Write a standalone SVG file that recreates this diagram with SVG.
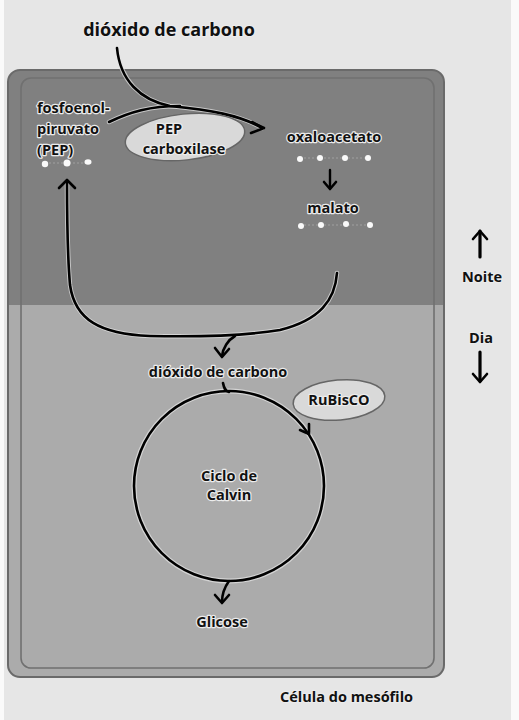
<svg xmlns="http://www.w3.org/2000/svg" width="519" height="720" viewBox="0 0 519 720">
<defs>
<style>
text{font-family:"Open Sans","Liberation Sans",sans-serif;font-weight:bold;fill:#111;stroke:#ececec;stroke-width:2.4px;paint-order:stroke;stroke-linejoin:round}
.c{text-anchor:middle}
.ln{fill:none;stroke:#000;stroke-width:2.6;stroke-linecap:round;stroke-linejoin:round}
.halo{fill:none;stroke:#e6e6e6;stroke-width:4.5;stroke-linecap:round;stroke-linejoin:round;opacity:0.7}
.dot{fill:#fafafa}
.enz{fill:#d9d9d9;stroke:#666;stroke-width:1.5}
</style>
<clipPath id="cell"><rect x="8" y="70" width="436" height="607" rx="12"/></clipPath>
</defs>
<rect x="0" y="0" width="519" height="720" fill="#e6e6e6"/>
<rect x="511" y="0" width="8" height="720" fill="#fafafa"/>
<rect x="0" y="0" width="4" height="720" fill="#fafafa"/>
<g id="cell-body">
<g clip-path="url(#cell)">
<rect x="8" y="70" width="436" height="235" fill="#808080"/>
<rect x="8" y="305" width="436" height="372" fill="#ababab"/>
</g>
<rect x="8" y="70" width="436" height="607" rx="12" fill="none" stroke="#6a6a6a" stroke-width="2"/>
<rect x="21" y="78" width="413" height="590" rx="10" fill="none" stroke="#707070" stroke-width="1.6"/>
</g>
<g id="connectors">
<path class="halo" d="M117 48 C120 80 140 100 170 106 C210 110 240 115 262 128"/>
<path class="halo" d="M109 122 C130 112 150 106 180 106"/>
<path class="halo" d="M337 273 C335 300 320 320 280 330 C250 335 200 337 150 336 C100 334 75 320 70 285 C67 250 67 210 67 182"/>
<path class="ln" d="M117 48 C120 80 140 100 170 106 C210 110 240 115 262 128"/>
<path class="ln" d="M109 122 C130 112 150 106 180 106"/>
<path class="ln" d="M252 122 L264 128 L251 133"/>
<path class="ln" d="M337 273 C335 300 320 320 280 330 C250 335 200 337 150 336 C100 334 75 320 70 285 C67 250 67 210 67 182"/>
<path class="ln" d="M59 188 L67 180 L75 188"/>
<path class="ln" d="M235 336 C228 340 223 348 222 356"/>
<path class="ln" d="M215 348 L222 357 L229 349"/>
<line x1="330" y1="170" x2="330" y2="188" stroke="#000" stroke-width="2.4" stroke-linecap="round"/>
<path class="ln" d="M324 182 L330 189 L336 182" stroke-width="2.4"/>
<circle cx="229" cy="486" r="95" fill="none" stroke="#e6e6e6" stroke-width="5" opacity="0.7"/>
<circle cx="229" cy="486" r="95" fill="none" stroke="#000" stroke-width="2.6"/>
<path class="ln" d="M223 383 C224 388 225 391 229 392"/>
<path class="ln" d="M300 430 L309 434 L309 424"/>
<path class="ln" d="M229 581 C224 588 222 595 222 602"/>
<path class="ln" d="M215 595 L222 603 L229 595"/>
<line x1="480" y1="231" x2="480" y2="257" stroke="#000" stroke-width="3.2" stroke-linecap="round"/>
<path class="ln" d="M473 239 L480 231 L487 239" stroke-width="2.8"/>
<line x1="480" y1="352" x2="480" y2="381" stroke="#000" stroke-width="3.2" stroke-linecap="round"/>
<path class="ln" d="M473 374 L480 382 L487 374" stroke-width="2.8"/>
</g>
<g id="dots">
<line x1="45" y1="163" x2="88" y2="163" stroke="#a0a0a0" stroke-width="1" stroke-dasharray="2 2"/>
<circle class="dot" cx="45" cy="164" r="3.2"/>
<circle class="dot" cx="67" cy="163" r="3.5"/>
<ellipse class="dot" cx="88" cy="162" rx="3.5" ry="2.8"/>
<line x1="300" y1="158" x2="368" y2="158" stroke="#a0a0a0" stroke-width="1" stroke-dasharray="2 2"/>
<circle class="dot" cx="300" cy="159" r="3"/>
<circle class="dot" cx="320" cy="158" r="3"/>
<circle class="dot" cx="345" cy="158" r="3"/>
<circle class="dot" cx="368" cy="158" r="3"/>
<line x1="300" y1="225" x2="370" y2="225" stroke="#a0a0a0" stroke-width="1" stroke-dasharray="2 2"/>
<circle class="dot" cx="301" cy="226" r="3"/>
<circle class="dot" cx="321" cy="225" r="3"/>
<circle class="dot" cx="346" cy="224" r="3"/>
<circle class="dot" cx="370" cy="225" r="3"/>
</g>
<g id="co2-top"><text class="c" x="169" y="36" font-size="18">dióxido de carbono</text></g>
<g id="pep">
<text x="37" y="113" font-size="14.5">fosfoenol-</text>
<text x="37" y="134" font-size="14.5">piruvato</text>
<text x="37" y="155" font-size="14.5">(PEP)</text>
</g>
<g id="pep-carboxilase">
<ellipse class="enz" cx="185" cy="137" rx="60" ry="23" transform="rotate(-6 185 137)"/>
<text class="c" x="169" y="134" font-size="14.5">PEP</text>
<text class="c" x="184" y="154" font-size="14.5">carboxilase</text>
</g>
<g id="oxaloacetato"><text class="c" x="334" y="142" font-size="14.5">oxaloacetato</text></g>
<g id="malato"><text class="c" x="333" y="213" font-size="14.5">malato</text></g>
<g id="co2-mid"><text class="c" x="218" y="377" font-size="14.5">dióxido de carbono</text></g>
<g id="rubisco">
<ellipse class="enz" cx="339" cy="400" rx="46" ry="20" transform="rotate(-5 339 400)"/>
<text class="c" x="339" y="405" font-size="14.5">RuBisCO</text>
</g>
<g id="calvin">
<text class="c" x="229" y="481" font-size="14.5">Ciclo de</text>
<text class="c" x="229" y="500" font-size="14.5">Calvin</text>
</g>
<g id="glicose"><text class="c" x="222" y="627" font-size="14.5">Glicose</text></g>
<g id="celula"><text x="280" y="702" font-size="14.5">Célula do mesófilo</text></g>
<g id="noite"><text class="c" x="482" y="282" font-size="14.5">Noite</text></g>
<g id="dia"><text class="c" x="481" y="343" font-size="14.5">Dia</text></g>
</svg>
